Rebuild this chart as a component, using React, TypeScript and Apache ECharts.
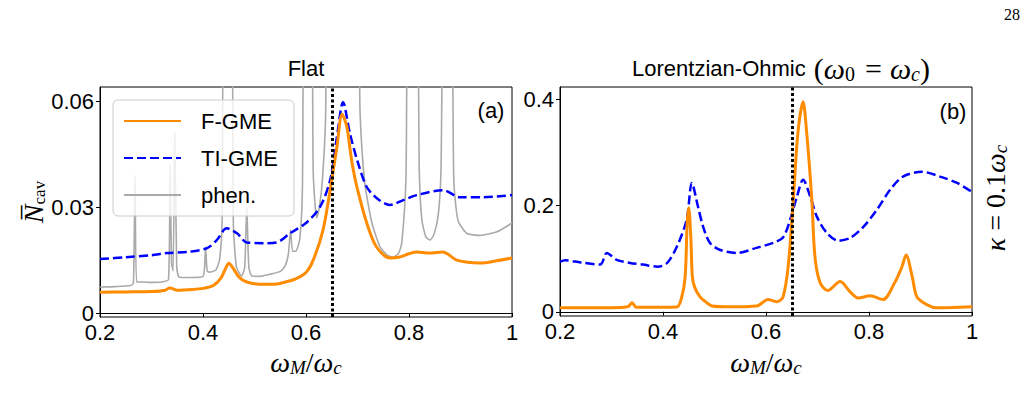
import React, { useEffect, useRef } from "react";
import * as echarts from "echarts";

const SANS = '"Liberation Sans", Arial, sans-serif';
const SERIF = '"Liberation Serif", "DejaVu Serif", serif';

// x ticks (both panels)
const xTicksMin = 0.2;
const xTicksMax = 1.0;
const xTickStep = 0.2;
// y ticks
const flatYTicks = [0, 0.03, 0.06];
const lorYTicks = [0, 0.2, 0.4];

const markerX = 0.65;

// Panel (a): Flat
const fgmeFlatX = [0.20,0.25,0.30,0.325,0.336,0.35,0.38,0.40,0.42,0.435,0.445,0.45,0.458,0.47,0.485,0.51,0.54,0.56,0.58,0.60,0.614,0.633,0.647,0.66,0.67,0.679,0.685,0.69,0.70,0.718,0.737,0.763,0.78,0.80,0.815,0.84,0.866,0.893,0.938,0.97,1.00];
const fgmeFlatY = [0.0059,0.0060,0.0061,0.0064,0.0071,0.0065,0.0067,0.0070,0.0078,0.0100,0.0130,0.0141,0.0128,0.0102,0.0088,0.0082,0.0082,0.0088,0.0097,0.0115,0.0150,0.0235,0.0350,0.0470,0.0563,0.0530,0.0470,0.0420,0.0350,0.0255,0.0187,0.0156,0.0158,0.0168,0.0173,0.0170,0.0173,0.0150,0.0142,0.0148,0.0156];

const tiFlatX = [0.20,0.25,0.30,0.33,0.37,0.408,0.427,0.446,0.466,0.485,0.517,0.543,0.569,0.60,0.627,0.647,0.66,0.672,0.685,0.701,0.718,0.737,0.763,0.789,0.815,0.866,0.899,0.944,1.00];
const tiFlatY = [0.0153,0.0158,0.0164,0.0170,0.0173,0.0184,0.0207,0.0240,0.0226,0.0200,0.0198,0.0200,0.0226,0.0255,0.0300,0.0377,0.0498,0.0597,0.0510,0.0425,0.0357,0.0326,0.0306,0.0320,0.0334,0.0348,0.0328,0.0328,0.0334];

const phenX = [0.20,0.23,0.26,0.265,0.268,0.271,0.28,0.30,0.32,0.333,0.336,0.339,0.342,0.345,0.349,0.353,0.36,0.38,0.40,0.403,0.405,0.408,0.412,0.425,0.432,0.437,0.441,0.455,0.459,0.465,0.475,0.481,0.485,0.489,0.495,0.51,0.53,0.55,0.56,0.566,0.57,0.574,0.58,0.588,0.593,0.597,0.61,0.614,0.618,0.621,0.626,0.632,0.638,0.642,0.70,0.705,0.714,0.728,0.744,0.757,0.769,0.78,0.786,0.794,0.799,0.815,0.82,0.825,0.833,0.841,0.849,0.857,0.862,0.868,0.882,0.887,0.895,0.912,0.938,0.971,1.00];
const phenY = [0.0074,0.0075,0.0078,0.0085,0.0390,0.0088,0.0088,0.0087,0.0088,0.0095,0.0420,0.0140,0.0120,0.0510,0.0130,0.0102,0.0101,0.0101,0.0104,0.0130,0.0187,0.0120,0.0116,0.0122,0.0150,0.0250,0.0900,0.0900,0.0250,0.0130,0.0105,0.0130,0.0300,0.0130,0.0105,0.0104,0.0110,0.0118,0.0135,0.0170,0.0235,0.0175,0.0175,0.0210,0.0350,0.0900,0.0900,0.0400,0.0300,0.0270,0.0300,0.0380,0.0550,0.0900,0.0900,0.0566,0.0370,0.0255,0.0187,0.0165,0.0158,0.0170,0.0200,0.0377,0.0900,0.0900,0.0400,0.0263,0.0215,0.0207,0.0225,0.0280,0.0400,0.0900,0.0900,0.0377,0.0263,0.0226,0.0220,0.0230,0.0255];

// Panel (b): Lorentzian-Ohmic
const fgmeLorX = [0.20,0.272,0.32,0.333,0.34,0.348,0.40,0.427,0.436,0.443,0.447,0.45,0.454,0.457,0.462,0.472,0.485,0.495,0.53,0.582,0.604,0.621,0.633,0.643,0.653,0.662,0.672,0.679,0.689,0.695,0.705,0.72,0.744,0.763,0.779,0.802,0.827,0.85,0.864,0.872,0.884,0.893,0.913,0.932,0.96,1.00];
const fgmeLorY = [0.0075,0.0075,0.0080,0.0100,0.0170,0.0085,0.0085,0.0090,0.0260,0.0660,0.1680,0.1960,0.1410,0.0660,0.0450,0.0280,0.0170,0.0110,0.0094,0.0110,0.0230,0.0190,0.0280,0.0850,0.2110,0.3380,0.3960,0.3380,0.2110,0.1040,0.0550,0.0400,0.0570,0.0380,0.0260,0.0300,0.0230,0.0550,0.0850,0.1070,0.0660,0.0280,0.0130,0.0075,0.0080,0.0094];

const tiLorX = [0.20,0.21,0.24,0.278,0.291,0.31,0.336,0.361,0.39,0.408,0.427,0.446,0.456,0.468,0.478,0.491,0.51,0.544,0.583,0.614,0.633,0.647,0.66,0.672,0.686,0.699,0.718,0.74,0.763,0.789,0.815,0.841,0.866,0.903,0.938,0.971,1.00];
const tiLorY = [0.094,0.097,0.093,0.089,0.111,0.098,0.092,0.089,0.085,0.092,0.123,0.174,0.243,0.198,0.160,0.130,0.117,0.111,0.121,0.130,0.140,0.174,0.217,0.249,0.217,0.179,0.149,0.134,0.139,0.160,0.192,0.230,0.255,0.264,0.255,0.243,0.226];

const seriesNames = ["F-GME", "TI-GME", "phen."];

const zip = (xs: number[], ys: number[]) => xs.map((x, i) => [x, ys[i]]);

const ORANGE = "#ff8c00";
const BLUE = "#0000ff";
const GRAY = "#aaaaaa";

function xAxisFor(gridIndex: number) {
  return {
    type: "value",
    gridIndex,
    min: xTicksMin,
    max: xTicksMax,
    interval: xTickStep,
    axisLine: { show: true, lineStyle: { color: "#000", width: 1 } },
    axisTick: { show: true, length: 4, lineStyle: { color: "#000" } },
    axisLabel: { color: "#000", fontSize: 22, lineHeight: 18, fontFamily: SANS, margin: 6 },
    splitLine: { show: false },
  };
}

function yAxisFor(gridIndex: number, min: number, max: number, ticks: number[]) {
  return {
    type: "value",
    gridIndex,
    min,
    max,
    axisLine: { show: true, lineStyle: { color: "#000", width: 1 } },
    axisTick: { show: true, length: 4, lineStyle: { color: "#000" }, customValues: ticks },
    axisLabel: { color: "#000", fontSize: 22, lineHeight: 18, fontFamily: SANS, margin: 6, customValues: ticks },
    splitLine: { show: false },
  };
}

const markLine = {
  silent: true,
  symbol: ["none", "none"],
  label: { show: false },
  lineStyle: { color: "#000", type: [3, 2.5], width: 3 },
  data: [{ xAxis: markerX }],
};

export default function App() {
  const ref = useRef<HTMLDivElement>(null);
  useEffect(() => {
    if (!ref.current) return;
    const chart = echarts.init(ref.current, undefined, { renderer: "svg" });
    const mathW = { fontFamily: SERIF, fontStyle: "italic", fontSize: 28, lineHeight: 30, color: "#000" };
    const mathR = { fontFamily: SERIF, fontSize: 28, lineHeight: 30, color: "#000" };
    const subI = { fontFamily: SERIF, fontStyle: "italic", fontSize: 19, lineHeight: 19, verticalAlign: "bottom", color: "#000" };
    const subR = { fontFamily: SERIF, fontSize: 19, lineHeight: 19, verticalAlign: "bottom", color: "#000" };
    const tW = { ...mathW, fontSize: 30, lineHeight: 32 };
    const tR = { ...mathR, fontSize: 30, lineHeight: 32 };
    const tEq = { ...tR, padding: [0, 8, 0, 8] };
    const tSubI = { ...subI, fontSize: 20, lineHeight: 20 };
    const tSubR = { ...subR, fontSize: 20, lineHeight: 20, padding: [0, 2, 0, 0] };
    const xNameText = "{w|ω}{s|M}{r|/}{w|ω}{s|c}";
    const option: any = {
      animation: false,
      backgroundColor: "#fff",
      grid: [
        { left: 100, top: 87, width: 412, height: 230, show: true, borderColor: "#000", borderWidth: 1, backgroundColor: "transparent" },
        { left: 560, top: 87, width: 412, height: 229, show: true, borderColor: "#000", borderWidth: 1, backgroundColor: "transparent" },
      ],
      xAxis: [xAxisFor(0), xAxisFor(1)],
      yAxis: [yAxisFor(0, -0.0011, 0.064, flatYTicks), yAxisFor(1, -0.008, 0.424, lorYTicks)],
      legend: {
        data: seriesNames,
        orient: "vertical",
        left: 113,
        top: 100,
        itemWidth: 57,
        itemHeight: 14,
        itemGap: 15,
        padding: [10, 16, 10, 10],
        backgroundColor: "rgba(255,255,255,0.8)",
        borderColor: "#cccccc",
        borderWidth: 1,
        borderRadius: 5,
        itemStyle: { opacity: 0 },
        lineStyle: { opacity: 1 },
        formatter: (name: string) => `{t|${name}}`,
        textStyle: {
          color: "#000",
          fontSize: 22,
          fontFamily: SANS,
          rich: { t: { fontSize: 22, fontFamily: SANS, color: "#000", padding: [0, 0, 0, 15] } },
        },
      },
      series: [
        {
          name: "phen.", type: "line", xAxisIndex: 0, yAxisIndex: 0, data: zip(phenX, phenY),
          symbol: "none", smooth: 0.2, z: 1,
          lineStyle: { color: GRAY, width: 1.6 }, itemStyle: { color: GRAY },
        },
        {
          name: "TI-GME", type: "line", xAxisIndex: 0, yAxisIndex: 0, data: zip(tiFlatX, tiFlatY),
          symbol: "none", smooth: 0.3, z: 2,
          lineStyle: { color: BLUE, width: 2.5, type: [9, 4] }, itemStyle: { color: BLUE },
        },
        {
          name: "F-GME", type: "line", xAxisIndex: 0, yAxisIndex: 0, data: zip(fgmeFlatX, fgmeFlatY),
          symbol: "none", smooth: 0.3, z: 3,
          lineStyle: { color: ORANGE, width: 3 }, itemStyle: { color: ORANGE },
          markLine,
        },
        {
          name: "TI-GME", type: "line", xAxisIndex: 1, yAxisIndex: 1, data: zip(tiLorX, tiLorY),
          symbol: "none", smooth: 0.3, z: 2,
          lineStyle: { color: BLUE, width: 2.5, type: [9, 4] }, itemStyle: { color: BLUE },
        },
        {
          name: "F-GME", type: "line", xAxisIndex: 1, yAxisIndex: 1, data: zip(fgmeLorX, fgmeLorY),
          symbol: "none", smooth: 0.3, z: 3,
          lineStyle: { color: ORANGE, width: 3 }, itemStyle: { color: ORANGE },
          markLine,
        },
      ],
      graphic: [
        { type: "text", x: 306, y: 68, style: { text: "Flat", font: `22px ${SANS}`, fill: "#000", align: "center", verticalAlign: "middle" } },
        {
          type: "text", x: 781, y: 68,
          style: {
            text: "{t|Lorentzian-Ohmic }{r|(}{w|ω}{sr|0}{e|=}{w|ω}{s|c}{r|)}",
            align: "center", verticalAlign: "middle",
            rich: {
              t: { fontFamily: SANS, fontSize: 22, lineHeight: 32, color: "#000", padding: [0, 2, 0, 0] },
              r: tR, w: tW, s: tSubI, sr: tSubR, e: tEq,
            },
          },
        },
        { type: "text", x: 491, y: 110, style: { text: "(a)", font: `22px ${SANS}`, fill: "#000", align: "center", verticalAlign: "middle" } },
        { type: "text", x: 953, y: 111, style: { text: "(b)", font: `22px ${SANS}`, fill: "#000", align: "center", verticalAlign: "middle" } },
        {
          type: "text", x: 306, y: 362,
          style: { text: xNameText, align: "center", verticalAlign: "middle", rich: { w: mathW, s: subI, r: mathR } },
        },
        {
          type: "text", x: 766, y: 362,
          style: { text: xNameText, align: "center", verticalAlign: "middle", rich: { w: mathW, s: subI, r: mathR } },
        },
        {
          type: "text", x: 33, y: 202, rotation: Math.PI / 2,
          style: {
            text: "{n|N\u0305}{s|cav}", align: "center", verticalAlign: "middle",
            rich: { n: mathW, s: { ...subR, fontSize: 17, lineHeight: 17 } },
          },
        },
        {
          type: "text", x: 995, y: 198, rotation: Math.PI / 2,
          style: {
            text: "{w|κ}{r| = 0.1}{w|ω}{s|c}", align: "center", verticalAlign: "middle",
            rich: { w: mathW, r: mathR, s: subI },
          },
        },
        { type: "text", x: 1012, y: 14, style: { text: "28", font: `16px ${SERIF}`, fill: "#000", align: "center", verticalAlign: "middle" } },
      ],
    };
    chart.setOption(option);
    return () => chart.dispose();
  }, []);
  return <div ref={ref} style={{ position: "absolute", left: 0, top: 0, width: 1028, height: 409 }} />;
}
